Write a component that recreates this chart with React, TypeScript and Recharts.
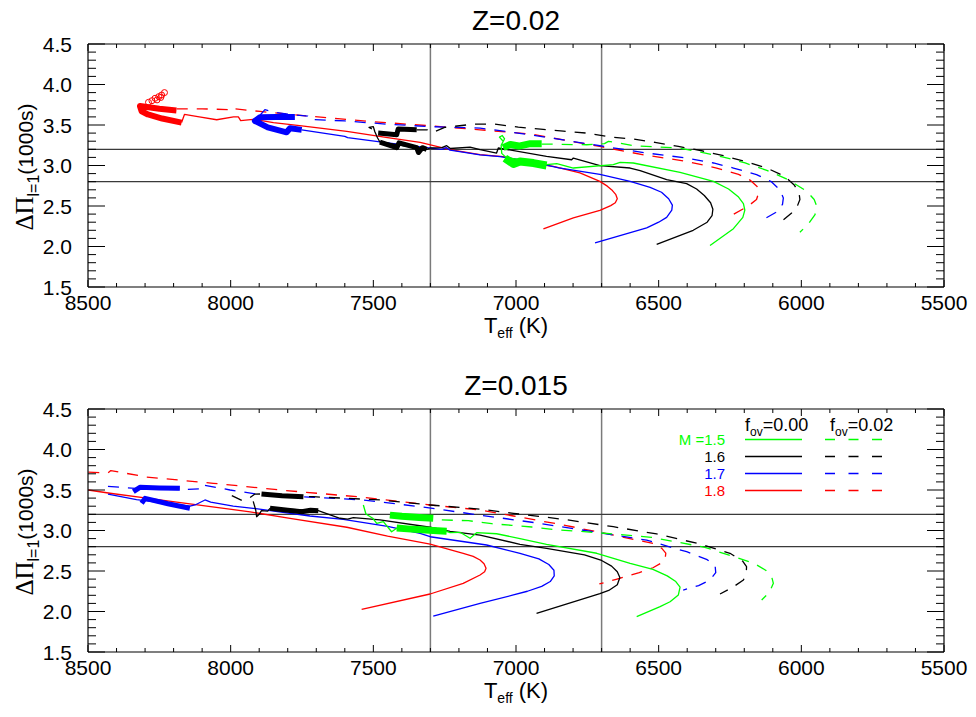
import React from "react";
import { LineChart, Line, XAxis, YAxis, ReferenceLine } from "recharts";

type Pt = [number, number]; // [Teff (K), Delta Pi (1000 s)]

// ---------- Z = 0.02 ----------
const z02M18Solid: Pt[] = [
  [8172, 3.53], [8162, 3.63], [8110, 3.6], [8049, 3.565], [7990, 3.6], [7973, 3.6], [7965, 3.555],
  [7921, 3.57], [7850, 3.53], [7751, 3.49], [7593, 3.42], [7450, 3.345], [7336, 3.285], [7231, 3.195],
  [7126, 3.133], [7045, 3.11], [6951, 3.03], [6869, 2.99], [6776, 2.91], [6706, 2.804], [6680, 2.745],
  [6662, 2.69], [6650, 2.64], [6645, 2.59], [6652, 2.54], [6668, 2.505], [6706, 2.447], [6799, 2.353],
  [6904, 2.218],
];
const z02M18Thick: Pt[] = [
  [8190, 3.68], [8250, 3.7], [8318, 3.735], [8312, 3.67], [8290, 3.63], [8240, 3.58], [8172, 3.53],
];
const z02M18Circles: Pt[] = [
  [8288, 3.78], [8276, 3.8], [8265, 3.83], [8252, 3.85], [8242, 3.87], [8232, 3.9], [8258, 3.81], [8245, 3.84],
];
const z02M18Dash: Pt[] = [
  [8189, 3.7], [8100, 3.7], [8010, 3.69], [8000, 3.72], [7985, 3.7], [7897, 3.667], [7710, 3.605],
  [7512, 3.544], [7301, 3.49], [7126, 3.441], [6951, 3.39], [6706, 3.235], [6550, 3.13], [6400, 3.05],
  [6300, 2.97], [6220, 2.89], [6180, 2.82], [6155, 2.74], [6150, 2.66], [6157, 2.58], [6186, 2.5],
  [6250, 2.374],
];
const z02M17Solid: Pt[] = [
  [7751, 3.44], [7600, 3.36], [7590, 3.345], [7450, 3.28], [7313, 3.22], [7260, 3.2], [7245, 3.22],
  [7231, 3.19], [7126, 3.13], [7056, 3.11], [6951, 3.05], [6850, 2.97], [6706, 2.89], [6600, 2.804],
  [6530, 2.73], [6490, 2.67], [6465, 2.59], [6452, 2.51], [6454, 2.45], [6472, 2.36], [6500, 2.3],
  [6542, 2.23], [6723, 2.046],
];
const z02M17Thick: Pt[] = [
  [7775, 3.6], [7840, 3.6], [7897, 3.597], [7915, 3.55], [7870, 3.47], [7804, 3.41], [7792, 3.46], [7751, 3.44],
];
const z02M17Dash: Pt[] = [
  [7897, 3.62], [7880, 3.69], [7850, 3.66], [7780, 3.625], [7730, 3.61], [7725, 3.57], [7600, 3.55],
  [7450, 3.51], [7301, 3.48], [7126, 3.462], [6950, 3.38], [6706, 3.244], [6542, 3.154], [6402, 3.092],
  [6308, 3.031], [6238, 2.969], [6157, 2.887], [6105, 2.8], [6075, 2.7], [6063, 2.6], [6066, 2.52],
  [6090, 2.42], [6133, 2.333],
];
const z02M16Solid: Pt[] = [
  [7505, 3.45], [7515, 3.47], [7500, 3.48], [7495, 3.42], [7485, 3.34], [7477, 3.29],
  [7313, 3.2], [7301, 3.216], [7260, 3.22], [7243, 3.245], [7230, 3.21], [7161, 3.228], [7126, 3.195],
  [7068, 3.154], [7062, 3.216], [6893, 3.112], [6805, 3.071], [6799, 3.092], [6706, 2.998], [6600, 2.969],
  [6565, 2.936], [6472, 2.825], [6402, 2.776], [6367, 2.71], [6340, 2.63], [6318, 2.54], [6310, 2.46],
  [6313, 2.38], [6330, 2.3], [6379, 2.2], [6507, 2.025],
];
const z02M16ThickLow: Pt[] = [
  [7477, 3.29], [7418, 3.22], [7410, 3.28], [7348, 3.22], [7342, 3.16], [7328, 3.22], [7313, 3.2],
];
const z02M16ThickUp: Pt[] = [[7483, 3.4], [7418, 3.38], [7413, 3.45], [7348, 3.44]];
const z02M16Dash: Pt[] = [
  [7348, 3.44], [7310, 3.44], [7290, 3.41], [7250, 3.47], [7150, 3.51], [7074, 3.511], [6992, 3.474],
  [6914, 3.449], [6834, 3.425], [6752, 3.4], [6668, 3.351], [6589, 3.326], [6513, 3.285], [6431, 3.235],
  [6349, 3.182], [6273, 3.121], [6197, 3.051], [6121, 2.969], [6060, 2.87], [6025, 2.76], [6008, 2.66],
  [6005, 2.58], [6015, 2.49], [6034, 2.415], [6069, 2.312],
];
const z02M15Solid: Pt[] = [
  [7045, 3.3], [7058, 3.35], [7048, 3.37], [7040, 3.33], [7052, 3.25], [7050, 3.15], [7035, 3.1],
  [6893, 3.01], [6857, 3.022], [6799, 2.969], [6659, 3.01], [6635, 3.038], [6589, 3.031], [6425, 2.915],
  [6308, 2.804], [6255, 2.71], [6220, 2.61], [6203, 2.53], [6198, 2.45], [6205, 2.36], [6238, 2.22],
  [6320, 2.012],
];
const z02M15ThickUp: Pt[] = [[7045, 3.22], [7020, 3.26], [6990, 3.24], [6950, 3.27], [6910, 3.27]];
const z02M15ThickLow: Pt[] = [[7039, 3.09], [7009, 3.02], [6986, 3.05], [6939, 3.03], [6893, 3.0]];
const z02M15Dash: Pt[] = [
  [6910, 3.265], [6752, 3.256], [6690, 3.27], [6676, 3.297], [6660, 3.29], [6589, 3.244], [6431, 3.216],
  [6349, 3.162], [6273, 3.104], [6197, 3.031], [6121, 2.94], [6046, 2.825], [5981, 2.682], [5955, 2.58],
  [5946, 2.497], [5952, 2.394], [5975, 2.28], [6005, 2.176],
];

// ---------- Z = 0.015 ----------
const z015M18Solid: Pt[] = [
  [8499, 3.5], [8423, 3.46], [8294, 3.4], [8143, 3.33], [7932, 3.23], [7792, 3.15], [7593, 3.04],
  [7450, 2.93], [7301, 2.833], [7185, 2.719], [7150, 2.68], [7126, 2.636], [7112, 2.59], [7105, 2.533],
  [7110, 2.49], [7126, 2.451], [7185, 2.348], [7301, 2.216], [7541, 2.027],
];
const z015M18Dash: Pt[] = [
  [8499, 3.72], [8430, 3.71], [8420, 3.74], [8294, 3.66], [8061, 3.583], [7827, 3.5], [7535, 3.41],
  [7301, 3.315], [7126, 3.253], [7009, 3.179], [6834, 3.068], [6700, 2.973], [6577, 2.883], [6519, 2.84],
  [6489, 2.78], [6475, 2.72], [6477, 2.66], [6490, 2.6], [6520, 2.54], [6568, 2.479], [6649, 2.397],
  [6708, 2.34],
];
const z015M17Solid: Pt[] = [
  [8430, 3.45], [8330, 3.38], [8143, 3.3], [8125, 3.315], [8090, 3.377], [8070, 3.35], [7991, 3.3],
  [7921, 3.274], [7722, 3.179], [7605, 3.138], [7450, 3.05], [7336, 2.965], [7301, 2.923], [7103, 2.821],
  [6986, 2.718], [6920, 2.65], [6885, 2.58], [6867, 2.51], [6866, 2.44], [6880, 2.37], [6910, 2.31],
  [6960, 2.25], [7009, 2.204], [7126, 2.101], [7290, 1.944],
];
const z015M17ThickUp: Pt[] = [[8341, 3.479], [8318, 3.533], [8250, 3.525], [8178, 3.521]];
const z015M17ThickLow: Pt[] = [[8312, 3.336], [8300, 3.397], [8220, 3.33], [8143, 3.274]];
const z015M17Dash: Pt[] = [
  [8430, 3.545], [8294, 3.51], [8180, 3.505], [8100, 3.515], [8096, 3.562], [8002, 3.5], [7886, 3.438],
  [7710, 3.41], [7535, 3.377], [7336, 3.294], [7126, 3.19], [6933, 3.096], [6723, 2.981], [6542, 2.88],
  [6402, 2.738], [6330, 2.64], [6302, 2.56], [6300, 2.48], [6320, 2.389], [6360, 2.32], [6414, 2.265],
];
const z015M16Solid: Pt[] = [
  [7921, 3.36], [7912, 3.25], [7909, 3.17], [7900, 3.2], [7892, 3.245], [7870, 3.24], [7862, 3.274],
  [7693, 3.245], [7617, 3.151], [7590, 3.14], [7570, 3.16], [7477, 3.13], [7301, 3.04], [7231, 2.99],
  [7126, 2.944], [6986, 2.83], [6893, 2.78], [6760, 2.7], [6700, 2.63], [6665, 2.56], [6645, 2.49],
  [6636, 2.42], [6645, 2.33], [6675, 2.26], [6706, 2.22], [6928, 1.978],
];
const z015M16ThickLow: Pt[] = [[7862, 3.274], [7800, 3.25], [7751, 3.232], [7720, 3.25], [7693, 3.245]];
const z015M16ThickUp: Pt[] = [[7892, 3.451], [7820, 3.43], [7745, 3.417]];
const z015M16Dash: Pt[] = [
  [7996, 3.43], [7960, 3.37], [7935, 3.4], [7915, 3.45], [7892, 3.451], [7745, 3.417], [7710, 3.417],
  [7477, 3.377], [7301, 3.315], [7126, 3.264], [7009, 3.212], [6834, 3.138], [6659, 3.047], [6507, 2.957],
  [6355, 2.833], [6250, 2.719], [6205, 2.62], [6192, 2.553], [6193, 2.47], [6203, 2.389], [6240, 2.3],
  [6285, 2.216],
];
const z015M15Solid: Pt[] = [
  [7535, 3.315], [7526, 3.204], [7502, 3.151], [7488, 3.089], [7465, 3.109], [7436, 2.985], [7418, 3.027],
  [7243, 2.99], [7231, 2.973], [7196, 2.978], [7161, 2.904], [7138, 2.973], [7068, 2.96], [6986, 2.9],
  [6893, 2.83], [6717, 2.719], [6600, 2.595], [6520, 2.52], [6470, 2.44], [6440, 2.37], [6425, 2.3],
  [6431, 2.204], [6460, 2.12], [6495, 2.06], [6577, 1.936],
];
const z015M15ThickUp: Pt[] = [[7442, 3.19], [7400, 3.175], [7340, 3.16], [7290, 3.15]];
const z015M15ThickLow: Pt[] = [[7418, 3.03], [7380, 3.02], [7330, 3.01], [7290, 3.0], [7243, 2.99]];
const z015M15Dash: Pt[] = [
  [7260, 3.13], [7167, 3.121], [7085, 3.084], [7015, 3.064], [6945, 3.043], [6864, 3.01], [6776, 2.99],
  [6659, 2.957], [6525, 2.916], [6425, 2.85], [6338, 2.793], [6256, 2.698], [6166, 2.595], [6125, 2.51],
  [6104, 2.43], [6098, 2.348], [6108, 2.27], [6121, 2.204], [6139, 2.142],
];

// axes
const xMajor = [5500, 6000, 6500, 7000, 7500, 8000, 8500];
const yMajor = [1.5, 2.0, 2.5, 3.0, 3.5, 4.0, 4.5];
const teffBounds = [7300, 6700];
const piBounds = [3.2, 2.8];
const legendMasses = ["M =1.5", "1.6", "1.7", "1.8"];
const legendOv = ["f", "ov", "=0.00", "=0.02"];

const RED = "#ff0000";
const BLUE = "#0000ff";
const GREEN = "#00ff00";
const BLACK = "#000000";
const legendColors = [GREEN, BLACK, BLUE, RED];

interface Track {
  pts: Pt[];
  color: string;
  dashed?: boolean;
  width?: number;
  circles?: boolean;
}

const tracks02: Track[] = [
  { pts: z02M18Dash, color: RED, dashed: true },
  { pts: z02M17Dash, color: BLUE, dashed: true },
  { pts: z02M16Dash, color: BLACK, dashed: true },
  { pts: z02M15Dash, color: GREEN, dashed: true },
  { pts: z02M18Solid, color: RED },
  { pts: z02M17Solid, color: BLUE },
  { pts: z02M16Solid, color: BLACK },
  { pts: z02M15Solid, color: GREEN },
  { pts: z02M18Thick, color: RED, width: 6 },
  { pts: z02M18Circles, color: RED, circles: true },
  { pts: z02M17Thick, color: BLUE, width: 6 },
  { pts: z02M16ThickLow, color: BLACK, width: 5 },
  { pts: z02M16ThickUp, color: BLACK, width: 5 },
  { pts: z02M15ThickUp, color: GREEN, width: 7 },
  { pts: z02M15ThickLow, color: GREEN, width: 8 },
];

const tracks015: Track[] = [
  { pts: z015M18Dash, color: RED, dashed: true },
  { pts: z015M17Dash, color: BLUE, dashed: true },
  { pts: z015M16Dash, color: BLACK, dashed: true },
  { pts: z015M15Dash, color: GREEN, dashed: true },
  { pts: z015M18Solid, color: RED },
  { pts: z015M17Solid, color: BLUE },
  { pts: z015M16Solid, color: BLACK },
  { pts: z015M15Solid, color: GREEN },
  { pts: z015M17ThickUp, color: BLUE, width: 5 },
  { pts: z015M17ThickLow, color: BLUE, width: 5 },
  { pts: z015M16ThickUp, color: BLACK, width: 5 },
  { pts: z015M16ThickLow, color: BLACK, width: 5 },
  { pts: z015M15ThickUp, color: GREEN, width: 7 },
  { pts: z015M15ThickLow, color: GREEN, width: 7 },
];

const W = 976;
const H = 345;
const FONT = "'Liberation Sans', Arial, Helvetica, sans-serif";
const DASH = "11 9";

// minor ticks every 1/5 of the major step
const minorTicks = (major: number[]) => {
  const out: number[] = [];
  for (let i = 0; i < major.length - 1; i++) {
    const step = (major[i + 1] - major[i]) / 5;
    for (let k = 0; k < 5; k++) out.push(Math.round((major[i] + k * step) * 1000) / 1000);
  }
  out.push(major[major.length - 1]);
  return out;
};
const xTicks = minorTicks(xMajor);
const yTicks = minorTicks(yMajor);
const isMajor = (v: number, major: number[]) => major.some((m) => Math.abs(m - v) < 1e-6);

const toRows = (pts: Pt[]) => pts.map(([t, p]) => ({ t, p }));

function BottomTick(props: any) {
  const { x, y, payload } = props;
  const major = isMajor(payload.value, xMajor);
  return (
    <g>
      <line x1={x} x2={x} y1={y} y2={y - (major ? 7 : 4)} stroke="#000" />
      {major && (
        <text x={x} y={y + 23} textAnchor="middle" fontSize={21} fontFamily={FONT} fill="#000">
          {payload.value}
        </text>
      )}
    </g>
  );
}

function TopTick(props: any) {
  const { x, y, payload } = props;
  const major = isMajor(payload.value, xMajor);
  return <line x1={x} x2={x} y1={y} y2={y + (major ? 7 : 4)} stroke="#000" />;
}

function LeftTick(props: any) {
  const { x, y, payload } = props;
  const major = isMajor(payload.value, yMajor);
  return (
    <g>
      <line x1={x} x2={x + (major ? 17 : 8)} y1={y} y2={y} stroke="#000" />
      {major && (
        <text x={x - 16} y={y + 7.5} textAnchor="end" fontSize={21} fontFamily={FONT} fill="#000">
          {Number(payload.value).toFixed(1)}
        </text>
      )}
    </g>
  );
}

function RightTick(props: any) {
  const { x, y, payload } = props;
  const major = isMajor(payload.value, yMajor);
  return <line x1={x} x2={x - (major ? 17 : 8)} y1={y} y2={y} stroke="#000" />;
}

function Legend015() {
  const rowY = [74.5, 91.5, 108.5, 125.5];
  return (
    <g fontFamily={FONT}>
      <text x={745} y={66} fontSize={18} fill="#000">
        {legendOv[0]}
        <tspan fontSize={12} dy={5}>{legendOv[1]}</tspan>
        <tspan fontSize={18} dy={-5}>{legendOv[2]}</tspan>
      </text>
      <text x={830} y={66} fontSize={18} fill="#000">
        {legendOv[0]}
        <tspan fontSize={12} dy={5}>{legendOv[1]}</tspan>
        <tspan fontSize={18} dy={-5}>{legendOv[3]}</tspan>
      </text>
      {legendMasses.map((m, i) => (
        <g key={m}>
          <text x={725} y={rowY[i] + 5.5} textAnchor="end" fontSize={15} fill={legendColors[i]}>
            {m}
          </text>
          <line x1={745} x2={802} y1={rowY[i]} y2={rowY[i]} stroke={legendColors[i]} strokeWidth={1.3} />
          <line x1={825} x2={882} y1={rowY[i]} y2={rowY[i]} stroke={legendColors[i]} strokeWidth={1.3} strokeDasharray="10 13.5" />
        </g>
      ))}
    </g>
  );
}

function Panel({ title, tracks, top, legend }: { title: string; tracks: Track[]; top: number; legend?: boolean }) {
  return (
    <div style={{ position: "absolute", left: 0, top, width: W, height: H }}>
      <LineChart width={W} height={H} margin={{ top: 0, right: 0, bottom: 0, left: 0 }}>
        <XAxis
          xAxisId="b"
          dataKey="t"
          type="number"
          domain={[5500, 8500]}
          reversed
          allowDataOverflow
          ticks={xTicks}
          interval={0}
          height={58}
          tickSize={0}
          tickMargin={0}
          tickLine={false}
          tick={<BottomTick />}
          axisLine={{ stroke: "#000", strokeWidth: 1.2 }}
        />
        <XAxis
          xAxisId="t"
          orientation="top"
          dataKey="t"
          type="number"
          domain={[5500, 8500]}
          reversed
          allowDataOverflow
          ticks={xTicks}
          interval={0}
          height={44}
          tickSize={0}
          tickMargin={0}
          tickLine={false}
          tick={<TopTick />}
          axisLine={{ stroke: "#000", strokeWidth: 1.2 }}
        />
        <YAxis
          yAxisId="l"
          dataKey="p"
          type="number"
          domain={[1.5, 4.5]}
          allowDataOverflow
          ticks={yTicks}
          interval={0}
          width={88}
          tickSize={0}
          tickMargin={0}
          tickLine={false}
          tick={<LeftTick />}
          axisLine={{ stroke: "#000", strokeWidth: 1.2 }}
        />
        <YAxis
          yAxisId="r"
          orientation="right"
          dataKey="p"
          type="number"
          domain={[1.5, 4.5]}
          allowDataOverflow
          ticks={yTicks}
          interval={0}
          width={32}
          tickSize={0}
          tickMargin={0}
          tickLine={false}
          tick={<RightTick />}
          axisLine={{ stroke: "#000", strokeWidth: 1.2 }}
        />
        {teffBounds.map((t) => (
          <ReferenceLine key={`t${t}`} xAxisId="b" yAxisId="l" x={t} stroke="#7a7a7a" strokeWidth={1.5} />
        ))}
        {piBounds.map((p) => (
          <ReferenceLine key={`p${p}`} xAxisId="b" yAxisId="l" y={p} stroke="#3a3a3a" strokeWidth={1.3} />
        ))}
        {tracks.map((tr, i) => (
          <Line
            key={i}
            xAxisId="b"
            yAxisId="l"
            data={toRows(tr.pts)}
            dataKey="p"
            type="linear"
            stroke={tr.circles ? "none" : tr.color}
            strokeWidth={tr.width ?? 1.3}
            strokeDasharray={tr.dashed ? DASH : undefined}
            strokeLinejoin="round"
            dot={tr.circles ? { r: 3, stroke: tr.color, strokeWidth: 1, fill: "none" } : false}
            activeDot={false}
            isAnimationActive={false}
          />
        ))}
      </LineChart>
      <svg width={W} height={H} style={{ position: "absolute", left: 0, top: 0, pointerEvents: "none" }}>
        <text x={516} y={30} textAnchor="middle" fontSize={28} fontFamily={FONT} fill="#000">
          {title}
        </text>
        <text x={516} y={333} textAnchor="middle" fontSize={22} fontFamily={FONT} fill="#000">
          T<tspan fontSize={14} dy={5}>eff</tspan>
          <tspan fontSize={22} dy={-5}> (K)</tspan>
        </text>
        <text
          x={33}
          y={167}
          transform="rotate(-90 33 167)"
          textAnchor="middle"
          fontSize={21}
          fontFamily={FONT}
          fill="#000"
        >
          <tspan fontFamily="'Liberation Serif', 'DejaVu Serif', serif" fontSize={25}>ΔΠ</tspan>
          <tspan fontSize={16} dy={6}>l=1</tspan>
          <tspan fontSize={21} dy={-6}>(1000s)</tspan>
        </text>
        {legend && <Legend015 />}
      </svg>
    </div>
  );
}

export default function App() {
  return (
    <div style={{ position: "absolute", left: 0, top: 0, width: W, height: 717, background: "#fff", fontFamily: FONT }}>
      <Panel title="Z=0.02" tracks={tracks02} top={0} />
      <Panel title="Z=0.015" tracks={tracks015} top={365} legend />
    </div>
  );
}
